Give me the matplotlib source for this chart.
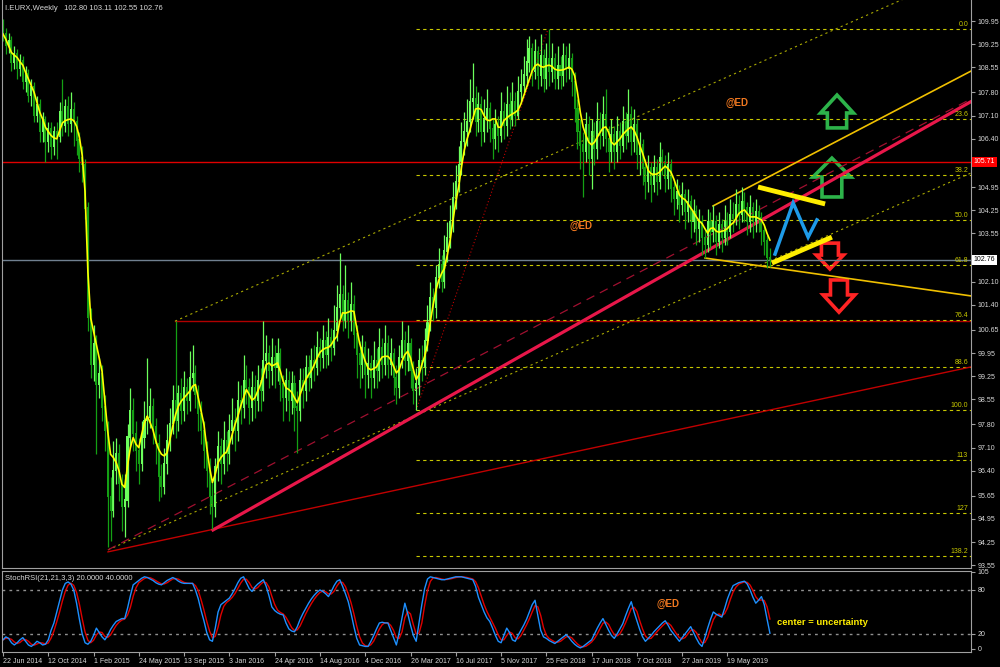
import matplotlib
matplotlib.use('Agg')
import numpy as np
import pandas as pd
import matplotlib.pyplot as plt
from matplotlib.patches import Polygon
from matplotlib.transforms import blended_transform_factory

plt.rcParams['font.family'] = ['Liberation Sans', 'DejaVu Sans']

# weekly bars of I.EURX, 22 Jun 2014 .. Sep 2019 (open = previous close)
first_open = 109.85
closes = [
    109.55, 109.2, 109.35, 108.7, 108.95, 108.5, 108.75, 108.1, 108.35, 107.7,
    107.95, 107.1, 107.4, 106.6, 106.95, 106.3, 106.7, 106.15, 106.6, 106.45,
    107.2, 106.8, 107.35, 106.85, 107.25, 106.9, 106.35, 105.8, 105.6, 104.3,
    101.0, 99.6, 100.2, 99.0, 99.3, 98.3, 97.6, 95.6, 95.2, 96.4,
    96.9, 96.0, 95.3, 95.5, 97.4, 98.2, 97.5, 97.0, 96.6, 97.4,
    97.9, 98.0, 98.3, 97.7, 97.2, 96.2, 95.9, 96.6, 97.3, 97.8,
    98.5, 97.9, 98.7, 98.2, 98.9, 98.5, 99.2, 99.3, 98.7, 98.1,
    97.6, 97.0, 96.4, 95.6, 95.3, 96.5, 97.1, 96.6, 97.3, 96.9,
    97.6, 97.9, 97.6, 98.5, 98.3, 99.1, 98.9, 98.3, 98.9, 98.5,
    99.1, 98.8, 99.7, 99.9, 99.4, 99.8, 99.5, 99.9, 99.0, 98.6,
    99.1, 98.5, 99.0, 98.3, 98.2, 99.1, 98.8, 99.5, 99.2, 99.7,
    99.5, 100.1, 99.8, 100.3, 99.9, 100.4, 100.1, 100.6, 101.3, 101.7,
    100.9, 101.5, 100.9, 101.4, 100.5, 99.9, 99.6, 100.1, 99.3, 99.6,
    99.2, 99.7, 99.4, 100.1, 99.6, 100.2, 99.6, 99.9, 99.2, 98.9,
    99.8, 100.3, 99.7, 100.2, 99.4, 98.8, 99.0, 99.7, 99.5, 100.3,
    100.9, 101.6, 101.3, 102.2, 102.6, 102.1, 103.0, 103.4, 103.9, 104.6,
    105.1, 105.6, 106.3, 106.6, 106.9, 107.5, 107.6, 106.9, 107.4, 106.6,
    107.0, 107.3, 106.7, 106.4, 106.8, 106.5, 107.2, 106.8, 107.4, 107.0,
    107.5, 107.1, 107.8, 108.0, 108.3, 108.7, 109.1, 108.4, 109.0, 108.3,
    108.9, 108.2, 108.8, 108.4, 108.8, 108.2, 108.6, 108.3, 108.9, 108.5,
    108.8, 108.1, 107.3, 106.6, 106.2, 106.0, 106.8, 105.8, 106.6, 106.1,
    106.9, 106.5, 107.1, 106.4, 106.0, 106.5, 106.0, 106.6, 106.2, 106.9,
    106.5, 107.1, 106.3, 106.8, 105.9, 106.2, 105.5, 105.1, 105.5, 105.0,
    105.5, 105.1, 105.8, 105.7, 105.2, 105.6, 104.9, 104.6, 104.8, 104.4,
    104.7, 104.2, 104.5, 103.9, 104.2, 103.7, 103.9, 103.4, 103.2, 103.9,
    103.6, 103.9, 103.3, 103.8, 103.4, 103.9, 103.6, 104.1, 104.0, 104.4,
    104.1, 104.5, 104.3, 103.9, 104.3, 103.9, 104.2, 104.0, 103.6, 103.3,
    102.8, 102.76]
highs = [
    110.0, 109.75, 109.6, 109.5, 109.2, 109.1, 108.95, 108.9, 108.6, 108.5,
    108.2, 108.1, 107.7, 107.6, 107.2, 107.1, 106.9, 106.9, 106.8, 106.9,
    107.5, 108.2, 107.6, 107.7, 107.8, 107.5, 107.1, 106.6, 106.2, 105.8,
    104.5, 101.3, 100.8, 100.5, 99.8, 99.6, 98.7, 97.9, 96.2, 97.3,
    97.4, 97.2, 96.3, 96.3, 97.8, 98.9, 98.6, 97.9, 97.4, 97.9,
    98.5, 99.8, 98.9, 98.6, 98.0, 97.5, 96.6, 97.1, 97.8, 98.3,
    99.0, 100.9, 99.0, 99.2, 99.4, 99.2, 100.0, 100.2, 99.6, 99.0,
    98.5, 97.9, 97.3, 96.8, 96.1, 96.8, 97.6, 97.4, 97.9, 97.6,
    98.1, 98.6, 98.3, 99.1, 99.0, 99.9, 99.6, 99.2, 99.4, 99.3,
    99.6, 99.5, 100.9, 100.5, 100.2, 100.4, 100.2, 100.4, 100.1, 99.3,
    99.5, 99.4, 99.4, 99.3, 98.8, 99.5, 99.5, 99.9, 99.9, 100.1,
    100.2, 100.6, 100.4, 100.8, 100.6, 101.0, 100.7, 101.4, 102.0, 102.95,
    102.0, 102.6, 101.8, 102.1, 101.7, 100.8, 100.3, 100.5, 100.3, 100.1,
    99.9, 100.3, 100.1, 100.7, 100.4, 100.8, 100.5, 100.4, 100.1, 99.6,
    100.2, 100.9, 100.6, 100.8, 100.4, 99.7, 99.5, 100.1, 100.2, 100.7,
    101.4, 102.1, 101.9, 102.6, 103.1, 102.9, 103.5, 103.9, 104.4, 105.1,
    105.6, 106.2, 106.9, 107.2, 107.6, 108.2, 108.7, 108.0, 107.8, 107.7,
    107.6, 107.9, 107.5, 107.0, 107.3, 107.1, 107.8, 107.5, 108.0, 107.8,
    108.1, 107.8, 108.3, 108.5, 108.9, 109.4, 109.5, 109.3, 109.4, 109.2,
    109.55, 109.1, 109.3, 109.71, 109.3, 109.0, 109.2, 108.9, 109.3, 109.2,
    109.3, 109.0, 108.4, 107.6, 107.0, 106.6, 107.2, 107.1, 107.0, 106.9,
    107.5, 107.2, 107.7, 107.9, 106.8, 107.0, 106.8, 107.1, 106.9, 107.4,
    107.2, 107.9, 107.4, 107.3, 107.0, 106.6, 106.4, 105.8, 105.9, 105.7,
    105.9, 105.8, 106.3, 106.1, 105.9, 106.0, 105.8, 105.1, 105.2, 105.0,
    105.1, 104.9, 104.9, 104.7, 104.6, 104.4, 104.3, 104.1, 103.7, 104.3,
    104.2, 104.4, 104.1, 104.2, 104.0, 104.4, 104.2, 104.6, 104.5, 104.9,
    104.7, 104.95, 104.8, 104.5, 104.7, 104.5, 104.6, 104.4, 104.2, 103.8,
    103.5, 103.11]
lows = [
    109.35, 108.95, 109.0, 108.45, 108.5, 108.2, 108.3, 107.9, 107.8, 107.5,
    107.4, 106.9, 106.9, 106.3, 106.3, 105.7, 106.0, 105.8, 105.9, 105.8,
    106.3, 106.5, 106.6, 106.5, 106.6, 106.2, 105.9, 105.4, 105.1, 104.0,
    100.6, 99.2, 99.1, 96.9, 98.6, 97.9, 97.0, 94.1, 94.3, 95.0,
    96.0, 95.5, 94.6, 94.4, 95.3, 97.1, 97.0, 96.4, 96.0, 96.4,
    97.1, 97.5, 97.7, 97.2, 96.6, 95.5, 95.6, 95.7, 96.3, 97.0,
    97.5, 97.4, 97.6, 97.8, 97.9, 98.1, 98.2, 98.8, 98.3, 97.6,
    97.2, 96.5, 95.9, 95.1, 94.65, 95.0, 96.1, 96.0, 96.3, 96.4,
    96.6, 97.2, 97.0, 97.3, 97.8, 98.0, 98.4, 97.8, 97.9, 98.0,
    98.2, 98.2, 98.5, 99.2, 98.9, 99.0, 98.9, 99.1, 98.5, 97.9,
    98.2, 97.9, 98.1, 97.6, 96.95, 97.9, 98.3, 98.5, 98.8, 98.9,
    99.1, 99.3, 99.4, 99.5, 99.5, 99.6, 99.7, 99.9, 100.3, 101.0,
    100.6, 100.7, 100.4, 100.6, 100.1, 99.2, 98.9, 99.2, 98.6, 98.9,
    98.6, 98.9, 98.9, 99.1, 99.2, 99.3, 99.2, 99.3, 98.7, 98.4,
    98.6, 99.5, 99.3, 99.4, 98.9, 98.4, 98.23, 98.7, 99.1, 99.3,
    100.0, 100.6, 100.9, 101.0, 101.9, 101.8, 101.9, 102.7, 103.1, 103.6,
    104.3, 104.8, 105.3, 105.9, 106.2, 106.6, 107.0, 106.5, 106.6, 106.2,
    106.3, 106.6, 106.3, 105.8, 106.1, 106.0, 106.3, 106.4, 106.5, 106.7,
    106.8, 106.8, 107.0, 107.5, 107.8, 108.0, 108.4, 108.0, 108.2, 107.9,
    108.0, 107.8, 107.9, 108.0, 108.1, 107.9, 107.9, 107.9, 108.0, 108.1,
    108.2, 107.7, 106.9, 106.1, 105.5, 104.65, 105.7, 105.3, 104.9, 105.6,
    105.8, 106.1, 106.2, 106.0, 105.4, 105.7, 105.5, 105.7, 105.8, 106.0,
    106.1, 106.3, 105.9, 106.0, 105.5, 105.3, 105.0, 104.6, 104.8, 104.5,
    104.8, 104.7, 104.9, 105.3, 104.8, 104.9, 104.5, 104.1, 104.3, 103.9,
    104.1, 103.7, 103.9, 103.4, 103.6, 103.2, 103.3, 102.9, 102.8, 103.0,
    103.1, 103.3, 102.9, 103.1, 103.0, 103.2, 103.2, 103.4, 103.6, 103.8,
    103.7, 103.9, 103.9, 103.5, 103.6, 103.4, 103.6, 103.6, 103.2, 102.9,
    102.5, 102.55]
# yellow moving average as drawn on the chart
ma_line = [
    109.56, 109.40, 109.20, 109.00, 108.92, 108.85, 108.72, 108.62, 108.40, 108.20,
    108.00, 107.80, 107.50, 107.20, 107.00, 106.75, 106.62, 106.50, 106.43, 106.40,
    106.65, 106.88, 106.95, 106.98, 107.00, 106.95, 106.78, 106.45, 105.90, 104.80,
    102.40, 101.00, 100.60, 100.20, 99.80, 99.40, 98.50, 97.60, 96.90, 96.80,
    96.65, 96.40, 96.00, 95.90, 96.55, 97.10, 97.40, 97.20, 97.10, 97.50,
    97.85, 98.05, 97.85, 97.63, 97.30, 97.05, 96.90, 96.85, 96.95, 97.35,
    97.75, 98.10, 98.35, 98.50, 98.60, 98.70, 98.80, 98.95, 99.00, 98.60,
    98.20, 97.80, 97.10, 96.50, 96.05, 96.30, 96.65, 96.80, 96.90, 96.97,
    97.20, 97.50, 97.80, 98.05, 98.35, 98.60, 98.85, 98.70, 98.53, 98.60,
    98.80, 99.00, 99.30, 99.60, 99.65, 99.56, 99.60, 99.65, 99.40, 99.10,
    98.90, 98.85, 98.77, 98.60, 98.45, 98.70, 98.95, 99.15, 99.30, 99.42,
    99.60, 99.80, 99.97, 100.05, 100.10, 100.12, 100.20, 100.35, 100.45, 100.90,
    101.16, 101.15, 101.18, 101.22, 101.20, 100.70, 100.25, 99.95, 99.70, 99.50,
    99.44, 99.48, 99.53, 99.70, 99.83, 99.85, 99.85, 99.75, 99.55, 99.35,
    99.45, 99.70, 99.90, 100.00, 99.80, 99.45, 99.15, 99.30, 99.60, 99.85,
    100.20, 100.90, 101.40, 101.85, 102.15, 102.35, 102.50, 102.90, 103.35, 103.95,
    104.50, 104.95, 105.55, 106.06, 106.40, 106.67, 107.00, 107.30, 107.32, 107.28,
    107.10, 106.97, 106.95, 107.00, 107.00, 106.75, 106.75, 106.95, 107.03, 107.10,
    107.15, 107.20, 107.27, 107.45, 107.70, 107.95, 108.20, 108.45, 108.60, 108.65,
    108.58, 108.56, 108.60, 108.62, 108.58, 108.50, 108.47, 108.47, 108.48, 108.52,
    108.56, 108.50, 108.30, 107.80, 107.20, 106.76, 106.50, 106.30, 106.22, 106.30,
    106.45, 106.60, 106.73, 106.76, 106.60, 106.30, 106.22, 106.31, 106.40, 106.53,
    106.62, 106.70, 106.76, 106.65, 106.46, 106.20, 105.97, 105.70, 105.45, 105.35,
    105.33, 105.34, 105.40, 105.50, 105.58, 105.50, 105.40, 105.20, 104.95, 104.71,
    104.62, 104.57, 104.45, 104.32, 104.20, 104.05, 103.93, 103.85, 103.70, 103.56,
    103.70, 103.72, 103.62, 103.59, 103.62, 103.64, 103.70, 103.80, 103.87, 104.00,
    104.15, 104.22, 104.26, 104.15, 104.05, 104.05, 104.05, 104.00, 103.96, 103.80,
    103.55, 103.35]
# StochRSI %K (the red %D is its 3-bar average)
stoch_k = [
    12, 16, 14, 8, 5, 8, 12, 15, 10, 5,
    3, 6, 10, 8, 5, 6, 12, 25, 35, 50,
    65, 80, 89, 91, 88, 80, 62, 40, 20, 8,
    6, 10, 18, 28, 22, 16, 12, 18, 26, 32,
    37, 39, 41, 41, 55, 72, 87, 90, 93, 96,
    98, 97, 95, 93, 90, 88, 87, 90, 93, 95,
    97, 95, 92, 90, 89, 89, 89, 89, 80, 68,
    52, 38, 22, 12, 10, 28, 50, 60, 63, 66,
    69, 75, 82, 90, 96, 98, 90, 82, 78, 84,
    88, 91, 94, 85, 72, 57, 52, 49, 47, 46,
    35, 27, 24, 23, 30, 40, 48, 55, 62, 68,
    73, 77, 80, 78, 75, 71, 78, 86, 92, 94,
    85, 75, 64, 48, 30, 14, 5, 4, 3, 3,
    10, 18, 27, 35, 36, 35, 35, 25, 15, 5,
    22, 42, 62, 48, 32, 18, 10, 35, 60, 82,
    95, 98, 97, 96, 95, 94, 94, 95, 96, 97,
    98, 98, 98, 97, 96, 95, 94, 85, 70, 60,
    50, 42, 37, 28, 18, 10, 8, 18, 28, 22,
    12, 10, 18, 25, 32, 40, 50, 60, 66, 45,
    25, 16, 14, 11, 9, 7, 10, 13, 16, 19,
    15, 10, 6, 3, 1, 3, 6, 9, 12, 20,
    28, 35, 41, 33, 25, 18, 14, 20, 27, 34,
    45, 55, 64, 50, 38, 26, 16, 10, 14, 18,
    23, 27, 31, 35, 38, 32, 25, 20, 15, 10,
    15, 20, 25, 30, 22, 14, 7, 3, 15, 28,
    40, 50, 47, 45, 43, 55, 68, 78, 86, 88,
    90, 91, 92, 88, 80, 70, 62, 66, 71, 60,
    40, 21]

date_labels = ['22 Jun 2014', '12 Oct 2014', '1 Feb 2015', '24 May 2015', '13 Sep 2015',
               '3 Jan 2016', '24 Apr 2016', '14 Aug 2016', '4 Dec 2016', '26 Mar 2017',
               '16 Jul 2017', '5 Nov 2017', '25 Feb 2018', '17 Jun 2018', '7 Oct 2018',
               '27 Jan 2019', '19 May 2019']
label_step = 16
price_ticks = [109.95, 109.25, 108.55, 107.80, 107.10, 106.40, 104.95, 104.25, 103.55,
               102.10, 101.40, 100.65, 99.95, 99.25, 98.55, 97.80, 97.10, 96.40, 95.65,
               94.95, 94.25, 93.55]
stoch_ticks = [105, 80, 20, 0]
last_price = 102.76
red_level = 105.71
res_level, res_start = 100.91, 60.8

# fibonacci retracement anchors (bar, price) and levels
fib_a = (146, 98.23)
fib_b = (192.6, 109.71)
fib_ratios = [0.0, 23.6, 38.2, 50.0, 61.8, 76.4, 88.6, 100.0, 113.0, 127.0, 138.2]
fib_names = ['0.0', '23.6', '38.2', '50.0', '61.8', '76.4', '88.6', '100.0', '113', '127', '138.2']

# trend lines: two anchors (bar, price), drawn as rays to the right
crimson_line = [(74.2, 94.62), (271.0, 104.10)]
dashed_red = [(37.1, 94.02), (342.0, 107.60)]
thin_red = [(37.1, 93.96), (342.0, 99.53)]
dot_yel_low = [(37.1, 94.02), (342.0, 105.37)]
dot_yel_up = [(60.8, 100.91), (253.4, 108.17)]
chan_up = [(250.9, 104.38), (342.0, 108.44)]
chan_low = [(248.1, 102.81), (342.0, 101.67)]
# segments drawn by hand
thick_yel_1 = [(266.8, 104.95), (290.5, 104.44)]
thick_yel_2 = [(271.7, 102.66), (292.9, 103.44)]
zigzag_i = [272.8, 279.2, 284.5, 287.6]
zigzag_p = [102.93, 104.47, 103.44, 103.96]
# arrows: centre bar, tip, head base, tail, shaft half width, head half width
arrows_up = [(294.7, 107.72, 107.18, 106.73, 3.4, 5.8), (292.9, 105.82, 105.25, 104.65, 3.5, 6.7)]
arrows_dn = [(292.2, 102.48, 102.90, 103.26, 3.0, 4.8), (295.4, 101.18, 101.70, 102.15, 3.0, 5.6)]

XMIN, XMAX = -0.35, 342.05
fg = '#D8D8D8'
small = 5

fig = plt.figure(figsize=(10, 6.67), dpi=100, facecolor='black')
ax = fig.add_axes([0.002, 1 - 568 / 667, 0.969, 568 / 667], facecolor='black')
ax2 = fig.add_axes([0.002, 1 - 652 / 667, 0.969, 81 / 667], facecolor='black')

x = np.arange(len(closes))
c = np.array(closes)
o = np.array([first_open] + closes[:-1])
col = np.where(c >= o, '#6CFF5C', '#14A014')

def ray(pts, **kw):
    (x0, y0), (x1, y1) = pts
    k = (y1 - y0) / (x1 - x0)
    ax.plot([x0, XMAX], [y0, y0 + k * (XMAX - x0)], **kw)

# horizontal levels
ax.axhline(red_level, color='#E00000', lw=1)
ax.plot([res_start, XMAX], [res_level, res_level], color='#B00000', lw=1)
ax.axhline(last_price, color='#708090', lw=1)

# fibonacci
span = fib_b[1] - fib_a[1]
tr = blended_transform_factory(ax.transAxes, ax.transData)
for r, nm in zip(fib_ratios, fib_names):
    lv = fib_b[1] - r / 100 * span
    ax.plot([fib_a[0], XMAX], [lv, lv], color='#C8C800', lw=0.8, ls=(0, (3, 3)))
    ax.text(0.997, lv + 0.03, nm, transform=tr, color='#C8C800', fontsize=small,
            ha='right', va='bottom')
ax.plot([fib_a[0], fib_b[0]], [fib_a[1], fib_b[1]], color='#C00000', lw=0.8, ls=(0, (1, 2)))

# trend lines
ray(dot_yel_low, color='#A8A800', lw=0.8, ls=(0, (2, 3)))
ray(dot_yel_up, color='#A8A800', lw=0.8, ls=(0, (2, 3)))
ray(thin_red, color='#C00000', lw=1)
ray(dashed_red, color='#A01030', lw=0.9, ls=(0, (7, 5)))
ray(crimson_line, color='#E8174A', lw=2.3)
ray(chan_up, color='#F0C000', lw=1.2)
ray(chan_low, color='#F0C000', lw=1.2)

# candles and average
ax.vlines(x, lows, highs, colors=col, lw=0.9)
ax.bar(x, np.abs(c - o) + 0.04, bottom=np.minimum(o, c), width=0.72, color=col, lw=0)
ax.plot(x, ma_line, color='#FFFF00', lw=1.2)

# hand drawn pattern
for seg in (thick_yel_1, thick_yel_2):
    ax.plot([seg[0][0], seg[1][0]], [seg[0][1], seg[1][1]], color='#FFEE00', lw=3.5,
            solid_capstyle='butt')
ax.plot(zigzag_i, zigzag_p, color='#1E9BE8', lw=2.5, solid_joinstyle='miter')
for a, clr in [(a, '#2DB34A') for a in arrows_up] + [(a, '#FF2424') for a in arrows_dn]:
    cx, tip, base, tail, ws, wh = a
    pts = [(cx, tip), (cx + wh, base), (cx + ws, base), (cx + ws, tail),
           (cx - ws, tail), (cx - ws, base), (cx - wh, base)]
    ax.add_patch(Polygon(pts, closed=True, fill=False, ec=clr, lw=2.6, joinstyle='miter'))

ax.text(259.4, 107.48, '@ED', color='#F07820', fontsize=7, fontweight='bold',
        ha='center', va='center')
ax.text(204.2, 103.77, '@ED', color='#F07820', fontsize=7, fontweight='bold',
        ha='center', va='center')

ax.set_xlim(XMIN, XMAX)
ax.set_ylim(93.474, 110.583)
ax.set_xticks([])
ax.yaxis.tick_right()
ax.set_yticks(price_ticks)
ax.set_yticklabels(['%.2f' % v for v in price_ticks])
ax.tick_params(axis='y', colors='#A0A0A0', labelcolor=fg, labelsize=small, length=3, pad=1.5)
for sp in ax.spines.values():
    sp.set_color('#A0A0A0')
ax.spines['top'].set_visible(False)
ax.text(1.003, red_level, '%.2f' % red_level, transform=tr, color='white', fontsize=small,
        va='center', ha='left', bbox=dict(facecolor='#FF0000', edgecolor='none', pad=1.2))
ax.text(1.003, last_price, '%.2f' % last_price, transform=tr, color='black', fontsize=small,
        va='center', ha='left', bbox=dict(facecolor='white', edgecolor='none', pad=1.2))
fig.text(0.005, 1 - 9 / 667, 'I.EURX,Weekly   102.80 103.11 102.55 102.76', color=fg,
         fontsize=5.5, va='center', ha='left')

# StochRSI panel
k = pd.Series(stoch_k, dtype=float)
xs = np.arange(len(k))
ax2.axhline(80, color='#909090', lw=1, ls=(0, (2, 3)))
ax2.axhline(20, color='#909090', lw=1, ls=(0, (2, 3)))
ax2.plot(xs, k.rolling(3, min_periods=1).mean(), color='#E00000', lw=1)
ax2.plot(xs, k, color='#1E90FF', lw=1)
ax2.text(235, 61, '@ED', color='#F07820', fontsize=7, fontweight='bold',
         ha='center', va='center')
ax2.text(273.5, 35, 'center = uncertainty', color='#FFEE00', fontsize=6.8,
         fontweight='bold', ha='left', va='center')
ax2.set_xlim(XMIN, XMAX)
ax2.set_ylim(-4.6, 105.9)
ax2.yaxis.tick_right()
ax2.set_yticks(stoch_ticks)
ax2.set_yticklabels([str(v) for v in stoch_ticks])
ax2.set_xticks(np.arange(len(date_labels)) * label_step)
ax2.set_xticklabels(date_labels)
for lab in ax2.get_xticklabels():
    lab.set_horizontalalignment('left')
ax2.tick_params(colors='#A0A0A0', labelcolor=fg, labelsize=small, length=3, pad=1.5)
for sp in ax2.spines.values():
    sp.set_color('#A0A0A0')
fig.text(0.005, 1 - 578 / 667, 'StochRSI(21,21,3,3) 20.0000 40.0000', color=fg,
         fontsize=5.5, va='center', ha='left')

fig.savefig('out.png', dpi=100, facecolor='black')
